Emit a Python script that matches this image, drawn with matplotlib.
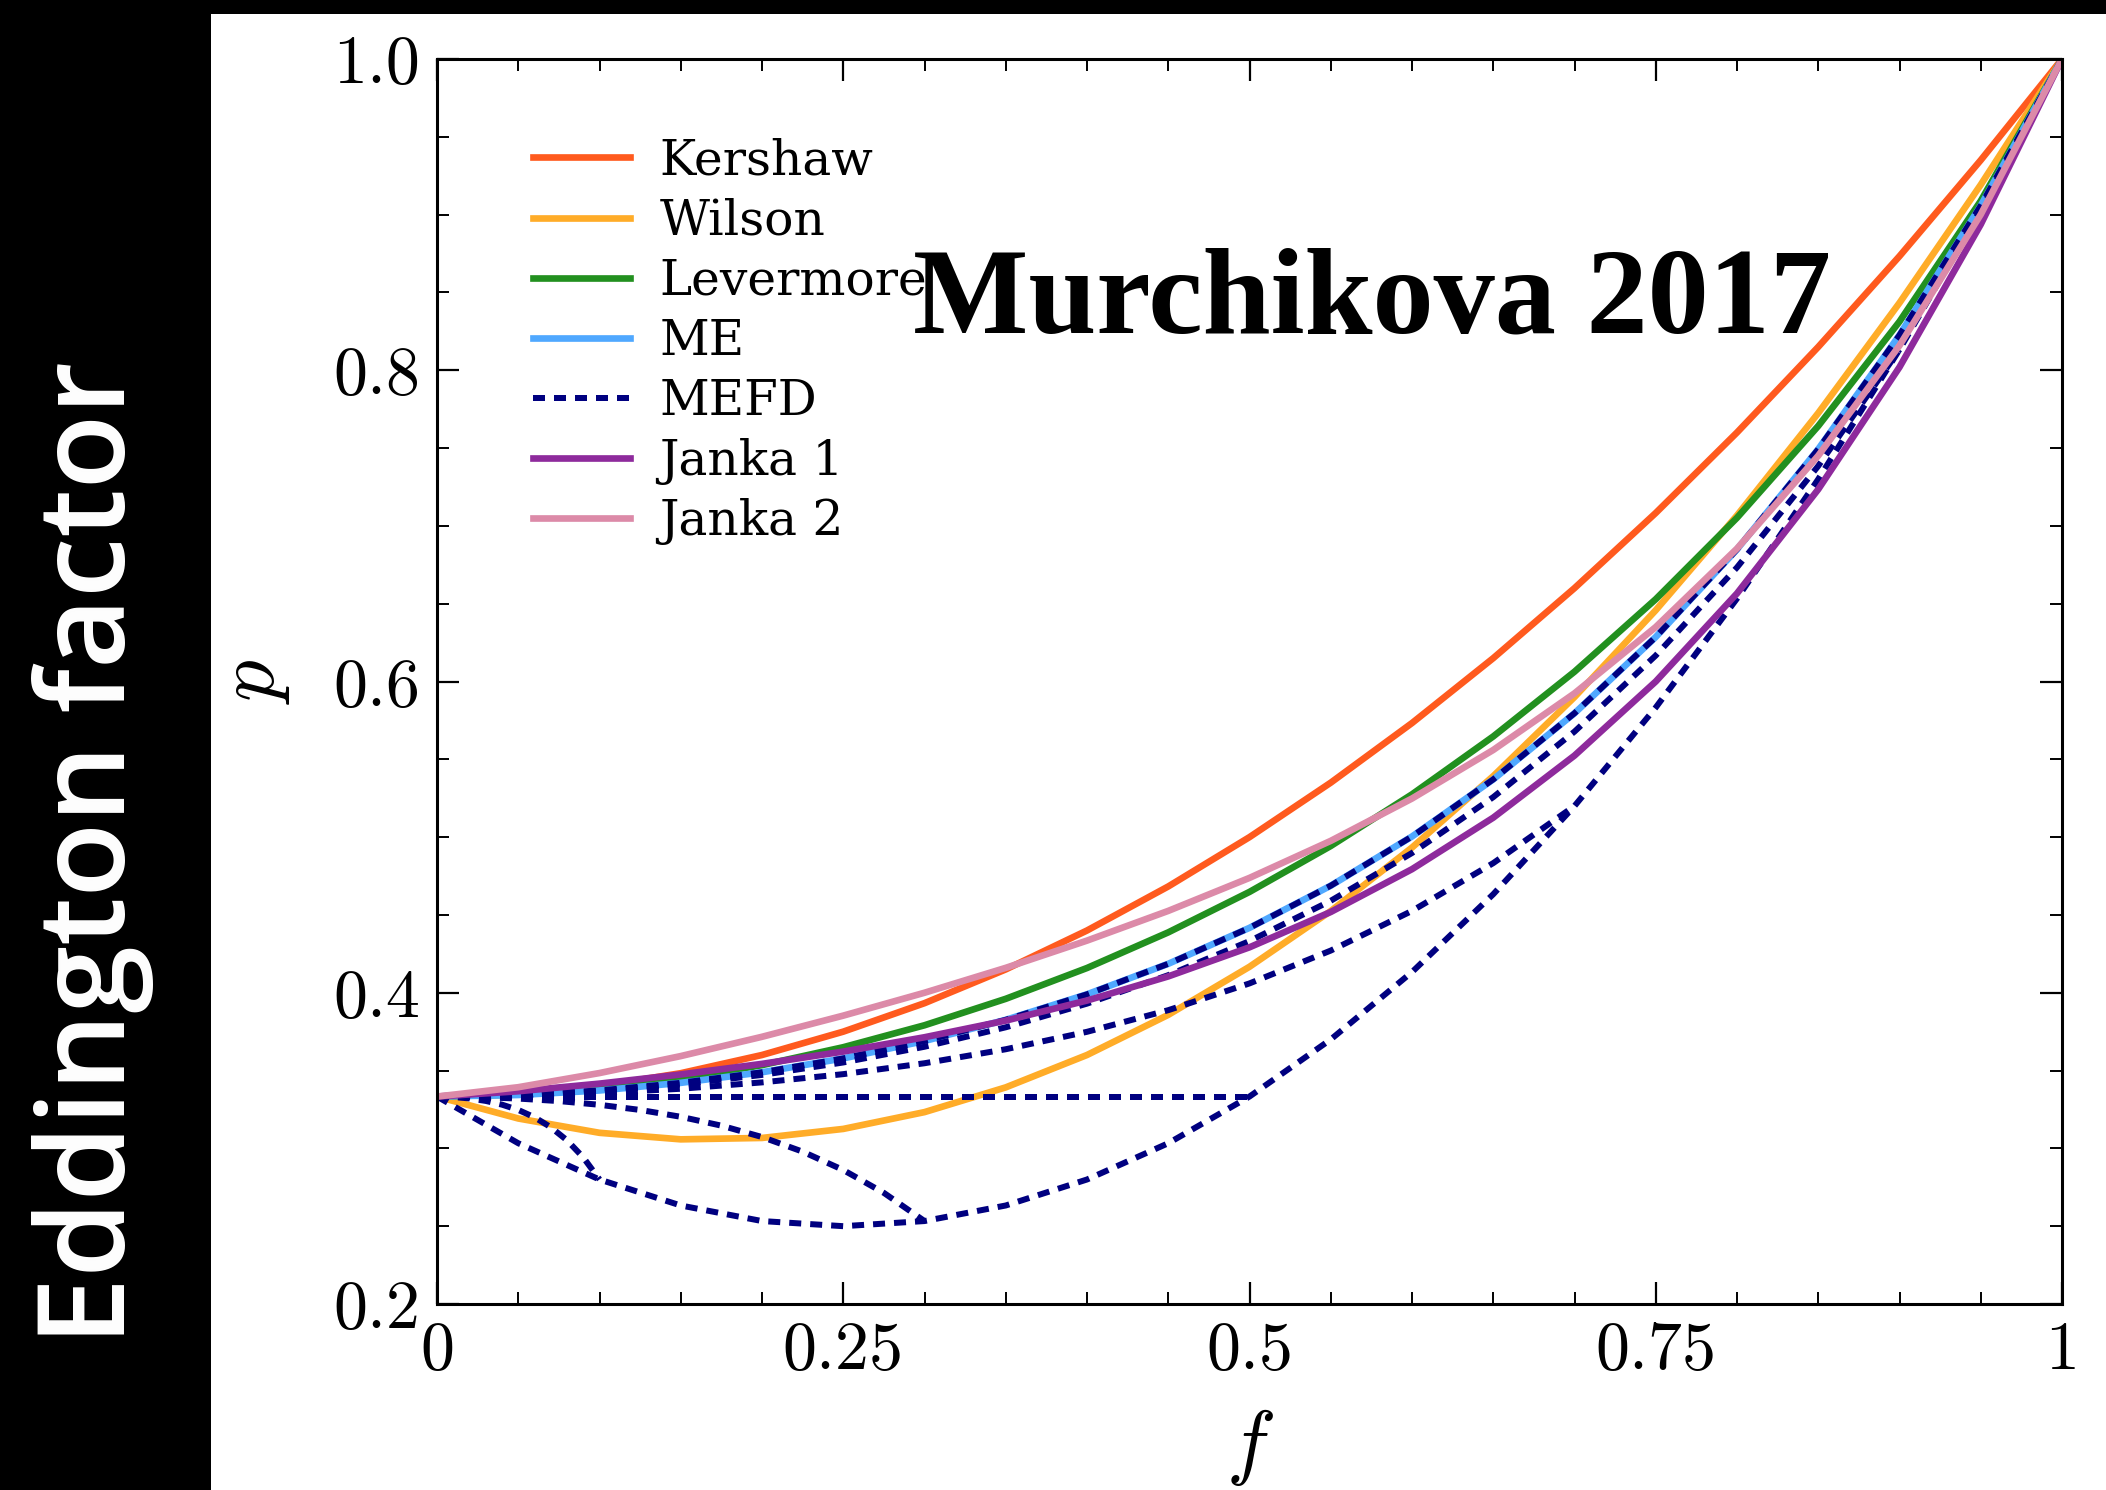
import matplotlib
matplotlib.use("Agg")
import matplotlib.pyplot as plt
from matplotlib.patches import Rectangle
from matplotlib.ticker import FixedLocator, FixedFormatter, MultipleLocator

plt.rcParams["mathtext.fontset"] = "cm"

# ---- data: Eddington factor p as a function of flux factor f ----
f_grid = [0.00, 0.05, 0.10, 0.15, 0.20, 0.25, 0.30, 0.35, 0.40, 0.45, 0.50,
          0.55, 0.60, 0.65, 0.70, 0.75, 0.80, 0.85, 0.90, 0.95, 1.00]

kershaw = [0.3333, 0.3350, 0.3400, 0.3483, 0.3600, 0.3750, 0.3933, 0.4150, 0.4400, 0.4683, 0.5000,
           0.5350, 0.5733, 0.6150, 0.6600, 0.7083, 0.7600, 0.8150, 0.8733, 0.9350, 1.0000]
wilson = [0.3333, 0.3192, 0.3100, 0.3058, 0.3067, 0.3125, 0.3233, 0.3392, 0.3600, 0.3858, 0.4167,
          0.4525, 0.4933, 0.5392, 0.5900, 0.6458, 0.7067, 0.7725, 0.8433, 0.9192, 1.0000]
levermore = [0.3333, 0.3346, 0.3383, 0.3446, 0.3535, 0.3650, 0.3791, 0.3961, 0.4159, 0.4388, 0.4648,
             0.4943, 0.5275, 0.5647, 0.6063, 0.6529, 0.7052, 0.7642, 0.8313, 0.9088, 1.0000]
me = [0.3333, 0.3343, 0.3372, 0.3421, 0.3489, 0.3578, 0.3690, 0.3826, 0.3990, 0.4186, 0.4417,
      0.4688, 0.5004, 0.5371, 0.5796, 0.6286, 0.6849, 0.7493, 0.8226, 0.9058, 1.0000]
janka1 = [0.3333, 0.3367, 0.3416, 0.3475, 0.3543, 0.3622, 0.3714, 0.3821, 0.3950, 0.4105, 0.4292,
          0.4519, 0.4794, 0.5125, 0.5524, 0.6000, 0.6566, 0.7235, 0.8020, 0.8937, 1.0000]
janka2 = [0.3333, 0.3393, 0.3484, 0.3593, 0.3717, 0.3853, 0.4000, 0.4160, 0.4335, 0.4526, 0.4738,
          0.4976, 0.5248, 0.5560, 0.5924, 0.6350, 0.6854, 0.7451, 0.8159, 0.9001, 1.0000]

# MEFD closure for several occupation values e, each up to its maximum flux 1 - e
mefd_e00_f = f_grid
mefd_e00_p = me
mefd_e01_f = f_grid[:19]
mefd_e01_p = [0.3333, 0.3342, 0.3368, 0.3411, 0.3472, 0.3552, 0.3653, 0.3778, 0.3930, 0.4113,
              0.4332, 0.4591, 0.4898, 0.5257, 0.5678, 0.6167, 0.6733, 0.7385, 0.8133]
mefd_e03_f = f_grid[:15]
mefd_e03_p = [0.3333, 0.3339, 0.3356, 0.3383, 0.3424, 0.3477, 0.3547, 0.3637, 0.3749, 0.3888,
              0.4060, 0.4271, 0.4526, 0.4833, 0.5200]
mefd_e05_f = [0.00, 0.50]
mefd_e05_p = [0.3333, 0.3333]
mefd_e07_f = [0.000, 0.025, 0.050, 0.075, 0.100, 0.125, 0.150, 0.175, 0.200, 0.225, 0.250, 0.275, 0.300]
mefd_e07_p = [0.3333, 0.3330, 0.3320, 0.3304, 0.3280, 0.3247, 0.3203, 0.3146, 0.3073, 0.2979,
              0.2861, 0.2714, 0.2533]
mefd_e09_f = [0.00, 0.01, 0.02, 0.03, 0.04, 0.05, 0.06, 0.07, 0.08, 0.09, 0.10]
mefd_e09_p = [0.3333, 0.3330, 0.3321, 0.3305, 0.3281, 0.3247, 0.3200, 0.3136, 0.3052, 0.2942, 0.2800]
# lower realizability boundary
mefd_edge_f = f_grid
mefd_edge_p = [0.3333, 0.3033, 0.2800, 0.2633, 0.2533, 0.2500, 0.2533, 0.2633, 0.2800, 0.3033, 0.3333,
               0.3700, 0.4133, 0.4633, 0.5200, 0.5833, 0.6533, 0.7300, 0.8133, 0.9033, 1.0000]

x_ticks = [0.0, 0.25, 0.5, 0.75, 1.0]
x_tick_labels = ["0", "0.25", "0.5", "0.75", "1"]
y_ticks = [0.2, 0.4, 0.6, 0.8, 1.0]
y_tick_labels = ["0.2", "0.4", "0.6", "0.8", "1.0"]

# ---- figure ----
W, H = 2106, 1490
fig = plt.figure(figsize=(W / 100, H / 100), dpi=100)
fig.patch.set_facecolor("white")

# black side band and top strip
fig.add_artist(Rectangle((0, 0), 211 / W, 1, transform=fig.transFigure,
                         facecolor="black", edgecolor="none", zorder=0))
fig.add_artist(Rectangle((0, 1 - 14 / H), 1, 14 / H, transform=fig.transFigure,
                         facecolor="black", edgecolor="none", zorder=0))

ax = fig.add_axes([437 / W, 1 - 1304 / H, (2062 - 437) / W, (1304 - 59) / H])

lw = 4.8
ax.plot(f_grid, kershaw, color="#ff5a1e", lw=lw, label="Kershaw")
ax.plot(f_grid, wilson, color="#ffac28", lw=lw, label="Wilson")
ax.plot(f_grid, levermore, color="#22901f", lw=lw, label="Levermore")
ax.plot(f_grid, me, color="#4fa8ff", lw=lw, label="ME")

mefd_sets = [(mefd_e00_f, mefd_e00_p), (mefd_e01_f, mefd_e01_p), (mefd_e03_f, mefd_e03_p),
             (mefd_e05_f, mefd_e05_p), (mefd_e07_f, mefd_e07_p), (mefd_e09_f, mefd_e09_p),
             (mefd_edge_f, mefd_edge_p)]
for i, (fx, py) in enumerate(mefd_sets):
    ax.plot(fx, py, color="#000080", lw=lw * 0.9, dashes=(2.0, 1.5),
            label="MEFD" if i == 0 else "_nolegend_")

ax.plot(f_grid, janka1, color="#8e2a9c", lw=lw, label="Janka 1")
ax.plot(f_grid, janka2, color="#dc8aa8", lw=lw, label="Janka 2")

ax.set_xlim(0, 1)
ax.set_ylim(0.2, 1.0)
ax.xaxis.set_major_locator(FixedLocator(x_ticks))
ax.xaxis.set_major_formatter(FixedFormatter(x_tick_labels))
ax.yaxis.set_major_locator(FixedLocator(y_ticks))
ax.yaxis.set_major_formatter(FixedFormatter(y_tick_labels))
ax.xaxis.set_minor_locator(MultipleLocator(0.05))
ax.yaxis.set_minor_locator(MultipleLocator(0.05))

ax.tick_params(which="both", direction="in", top=True, right=True, color="black")
ax.tick_params(which="major", length=16, width=1.6, pad=12, labelsize=49,
               labelfontfamily="cmr10")
ax.tick_params(which="minor", length=8.5, width=1.4)
for sp in ax.spines.values():
    sp.set_linewidth(2.2)

ax.set_xlabel("$f$", fontsize=60)
ax.xaxis.set_label_coords(0.5, -0.083)
ax.set_ylabel("$p$", fontsize=60)
ax.yaxis.set_label_coords(-0.089, 0.5)

ax.legend(loc="upper left", bbox_to_anchor=(0.059, 0.937), frameon=False,
          prop={"family": "DejaVu Serif", "size": 35}, handlelength=2.0,
          handletextpad=0.6, labelspacing=0.27, borderpad=0, borderaxespad=0)

fig.text(1372 / W, 1 - 333 / H, "Murchikova 2017", ha="center", va="baseline",
         fontsize=88, fontweight="bold", family="Liberation Serif", color="black")

fig.text(125 / W, 1 - 853 / H, "Eddington factor", rotation=90, rotation_mode="anchor",
         ha="center", va="baseline", color="white", fontsize=88,
         family="Open Sans", fontweight="semibold")

fig.savefig("out.png", dpi=100, facecolor=fig.get_facecolor())
